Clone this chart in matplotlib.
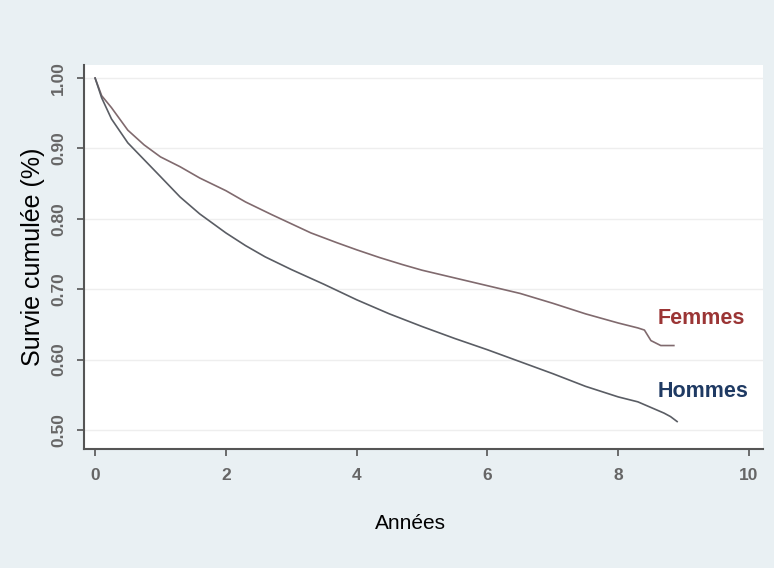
import matplotlib
matplotlib.use("Agg")
import matplotlib.pyplot as plt

# Kaplan-Meier estimates
t_femmes = [0, 0.1, 0.25, 0.5, 0.75, 1.0, 1.3, 1.6, 2.0, 2.3, 2.7, 3.0, 3.3, 3.7,
            4.0, 4.35, 4.7, 5.0, 5.5, 6.0, 6.5, 7.0, 7.5, 8.0, 8.3, 8.4, 8.5, 8.65, 8.85]
s_femmes = [1.00, 0.975, 0.958, 0.926, 0.905, 0.888, 0.874, 0.858, 0.840, 0.824, 0.806,
            0.793, 0.780, 0.766, 0.756, 0.745, 0.735, 0.727, 0.716, 0.705, 0.694, 0.680,
            0.665, 0.652, 0.645, 0.642, 0.627, 0.620, 0.620]

t_hommes = [0, 0.1, 0.25, 0.5, 0.75, 1.0, 1.3, 1.6, 2.0, 2.3, 2.6, 3.0, 3.5, 4.0,
            4.5, 5.0, 5.5, 6.0, 6.5, 7.0, 7.5, 8.0, 8.3, 8.5, 8.7, 8.8, 8.9]
s_hommes = [1.00, 0.972, 0.942, 0.908, 0.884, 0.860, 0.831, 0.807, 0.780, 0.762, 0.746,
            0.728, 0.707, 0.685, 0.665, 0.647, 0.630, 0.614, 0.597, 0.580, 0.562, 0.547,
            0.540, 0.532, 0.524, 0.519, 0.512]

x_ticks = [0, 2, 4, 6, 8, 10]
y_ticks = [0.50, 0.60, 0.70, 0.80, 0.90, 1.00]

plt.rcParams["font.family"] = ["Liberation Sans", "DejaVu Sans"]

bg = "#e9f0f3"
fig = plt.figure(figsize=(7.74, 5.68), dpi=100, facecolor=bg)
ax = fig.add_axes([0.1085, 0.2095, 0.877, 0.676])
ax.set_facecolor("white")

ax.plot(t_femmes, s_femmes, color="#806a6e", lw=1.2)
ax.plot(t_hommes, s_hommes, color="#5a5d64", lw=1.2)

# curve labels
ax.text(8.6, 0.659, "Femmes", color="#9b3535", fontsize=15.5,
        fontweight="bold", va="center", ha="left")
ax.text(8.6, 0.554, "Hommes", color="#1f3a63", fontsize=15.5,
        fontweight="bold", va="center", ha="left")

ax.set_xlim(-0.17, 10.21)
ax.set_ylim(0.473, 1.0185)
ax.set_xticks(x_ticks)
ax.set_yticks(y_ticks)
ax.set_yticklabels(["%.2f" % v for v in y_ticks], rotation=90, va="center")
for lbl in ax.get_xticklabels() + ax.get_yticklabels():
    lbl.set_fontweight("bold")
ax.grid(True, axis="y", color="#eeeeee", lw=1)
ax.set_axisbelow(True)

for side in ["top", "right"]:
    ax.spines[side].set_visible(False)
for side in ["left", "bottom"]:
    ax.spines[side].set_color("#555555")
    ax.spines[side].set_linewidth(1.5)
ax.tick_params(direction="out", length=5, width=1.2, color="#555555",
               labelcolor="#666666", labelsize=12.5)
ax.tick_params(axis="x", pad=9)
ax.tick_params(axis="y", pad=8)

ax.set_xlabel("Années", fontsize=15, labelpad=22)
ax.xaxis.label.set_x(0.481)
ax.set_ylabel("Survie cumulée (%)", fontsize=18, labelpad=4)

fig.savefig("out.png", dpi=100, facecolor=bg)
